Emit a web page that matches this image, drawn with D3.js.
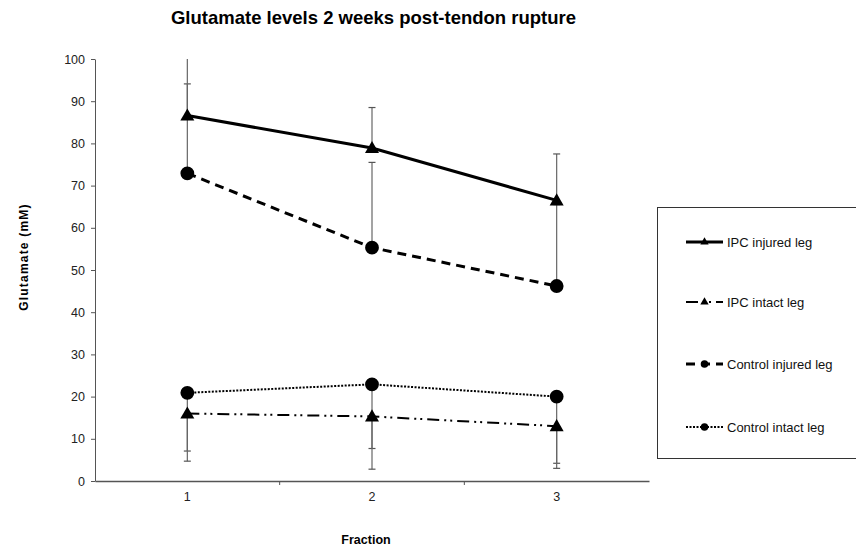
<!DOCTYPE html>
<html><head><meta charset="utf-8">
<script src="https://cdn.jsdelivr.net/npm/d3@7"></script>
<style>body{margin:0;background:#fff}svg{display:block}text{font-family:Arial,"Liberation Sans",sans-serif}</style>
</head><body><svg id="c" width="856" height="546"></svg>
<script>
const fractions = ["1","2","3"];
const yTicks = [0,10,20,30,40,50,60,70,80,90,100];
const seriesNames = ["IPC injured leg","IPC intact leg","Control injured leg","Control intact leg"];
const ipcInjured = [86.6, 78.9, 66.5];
const ipcInjuredErrHi = [104, 88.5, 77.5];
const ipcIntact = [16.0, 15.3, 13.0];
const ipcIntactErrLo = [4.7, 2.8, 3.0];
const ctrlInjured = [72.9, 55.3, 46.2];
const ctrlInjuredErrHi = [94.1, 75.5, 65.5];
const ctrlIntact = [20.9, 22.9, 20.0];
const ctrlIntactErrLo = [7.1, 7.7, 4.2];

const svg = d3.select("#c");
const x0 = 95, x1 = 649, yTop = 59, yBot = 481;
const xBand = d3.scaleBand().domain(fractions).range([x0, x1]);
const x = d => xBand(d) + xBand.bandwidth()/2;
const y = d3.scaleLinear().domain([0,100]).range([yBot, yTop]);

// title
svg.append("text").attr("x",373.5).attr("y",24).attr("text-anchor","middle")
  .attr("font-size",18.5).attr("font-weight","bold").text("Glutamate levels 2 weeks post-tendon rupture");
// y axis
const ya = svg.append("g").attr("transform",`translate(${x0},0)`)
  .call(d3.axisLeft(y).tickValues(yTicks).tickSize(4).tickSizeOuter(0).tickPadding(6));
ya.select(".domain").attr("stroke","#555");
ya.selectAll(".tick line").attr("stroke","#555");
ya.selectAll("text").attr("font-size",12.5).attr("font-family","Arial").attr("fill","#222");
// x axis
const xa = svg.append("g").attr("transform",`translate(0,${yBot})`)
  .call(d3.axisBottom(xBand).tickSize(0).tickPadding(11));
xa.select(".domain").attr("stroke","#555").attr("stroke-width",1.3);
xa.selectAll("text").attr("font-size",12.5).attr("font-family","Arial").attr("fill","#222");
// tick marks between categories
svg.append("g").selectAll("line").data(fractions.slice(1)).join("line")
  .attr("x1",d=>xBand(d)).attr("x2",d=>xBand(d)).attr("y1",yBot).attr("y2",yBot+4)
  .attr("stroke","#555");

svg.append("text").attr("transform",`translate(28,${257}) rotate(-90)`)
  .attr("text-anchor","middle").attr("font-size",12).attr("font-weight","bold")
  .attr("letter-spacing",1.2).text("Glutamate (mM)");
svg.append("text").attr("x",366).attr("y",544).attr("text-anchor","middle")
  .attr("font-size",12.5).attr("font-weight","bold").text("Fraction");

svg.append("clipPath").attr("id","pc").append("rect")
  .attr("x",x0).attr("y",yTop).attr("width",x1-x0).attr("height",yBot-yTop);

// error bars
function errBars(vals, ends){
  const g = svg.append("g").attr("clip-path","url(#pc)");
  fractions.forEach((f,i)=>{
    g.append("line").attr("x1",x(f)).attr("x2",x(f)).attr("y1",y(vals[i])).attr("y2",y(ends[i]))
      .attr("stroke","#666").attr("stroke-width",1.2);
    if (ends[i] <= 100)
      g.append("line").attr("x1",x(f)-3.5).attr("x2",x(f)+3.5).attr("y1",y(ends[i])).attr("y2",y(ends[i]))
        .attr("stroke","#555").attr("stroke-width",1.2);
  });
}
errBars(ctrlInjured, ctrlInjuredErrHi);
errBars(ipcInjured, ipcInjuredErrHi);
errBars(ctrlIntact, ctrlIntactErrLo);
errBars(ipcIntact, ipcIntactErrLo);

const styles = [
  {vals: ipcInjured, w:3, dash:null, mark:"tri"},
  {vals: ipcIntact, w:2, dash:"12,5,2,4,2,5", mark:"tri"},
  {vals: ctrlInjured, w:3, dash:"9,6", mark:"dot"},
  {vals: ctrlIntact, w:2, dash:"2,1.5", mark:"dot"}
];
const line = d3.line().x((d,i)=>x(fractions[i])).y(d=>y(d));
const tri = d3.symbol().type(d3.symbolTriangle).size(85);
const dot = d3.symbol().type(d3.symbolCircle).size(150);
styles.forEach(s=>{
  svg.append("path").attr("d",line(s.vals)).attr("fill","none").attr("stroke","#000")
    .attr("stroke-width",s.w).attr("stroke-dasharray",s.dash);
  svg.append("g").selectAll("path").data(s.vals).join("path")
    .attr("transform",(d,i)=>`translate(${x(fractions[i])},${y(d)+(s.mark==="tri"?1:0)})`)
    .attr("d", s.mark==="tri" ? tri : dot)
    .attr("fill","#000");
});

// legend
svg.append("rect").attr("x",657.5).attr("y",207.5).attr("width",210).attr("height",251)
  .attr("fill","none").attr("stroke","#333").attr("stroke-width",1);
const ly = [242, 302, 364, 427];
seriesNames.forEach((n,i)=>{
  const s = styles[i];
  const lg = svg.append("g");
  lg.append("line").attr("x1",686).attr("x2",723).attr("y1",ly[i]).attr("y2",ly[i])
    .attr("stroke","#000").attr("stroke-width",s.w).attr("stroke-dasharray",s.dash);
  lg.append("path").attr("transform",`translate(704.5,${ly[i]})`)
    .attr("d", s.mark==="tri" ? d3.symbol().type(d3.symbolTriangle).size(30)() : d3.symbol().type(d3.symbolCircle).size(45)())
    .attr("fill","#000");
  lg.append("text").attr("x",727).attr("y",ly[i]+4.5).attr("font-size",13).attr("fill","#111").text(n);
});
</script></body></html>
